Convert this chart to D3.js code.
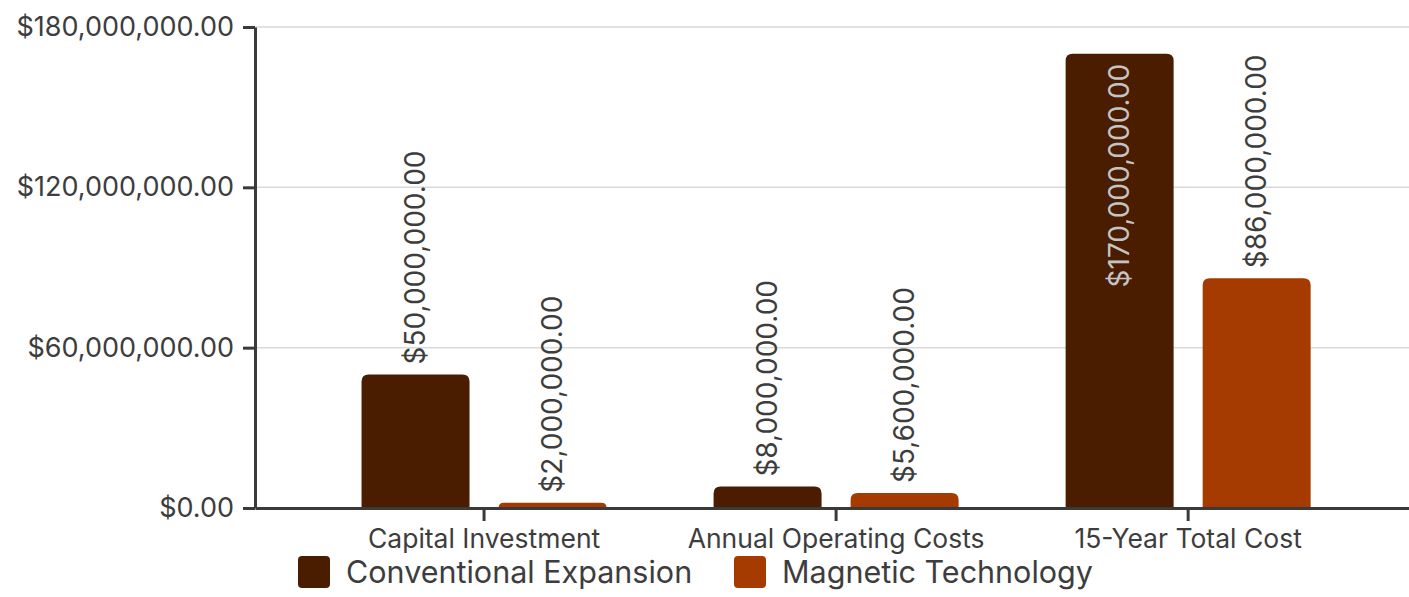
<!DOCTYPE html>
<html>
<head>
<meta charset="utf-8">
<script src="https://cdn.jsdelivr.net/npm/d3@7"></script>
<style>
  html, body { margin: 0; padding: 0; background: #fff; }
  svg { display: block; font-family: Inter, "Open Sans", sans-serif; }
</style>
</head>
<body>
<svg id="chart" width="1409" height="597"></svg>
<script>
// Cost comparison data
const categories = ["Capital Investment", "Annual Operating Costs", "15-Year Total Cost"];
const seriesNames = ["Conventional Expansion", "Magnetic Technology"];
const conventional = [50000000, 8000000, 170000000];
const magnetic = [2000000, 5600000, 86000000];
const yTicks = [0, 60000000, 120000000, 180000000];
const colors = ["#4a1c00", "#a53b00"];

const series = [conventional, magnetic];
const rows = categories.map((c, i) => ({
  category: c,
  values: seriesNames.map((s, k) => ({ key: s, k, value: series[k][i] }))
}));

const svg = d3.select("#chart");
const margin = { left: 255, right: 0, top: 27, bottom: 89 };
const W = 1409, H = 597;
const innerW = W - margin.left - margin.right;
const innerH = H - margin.top - margin.bottom;

const fmt = d => "$" + d3.format(",.2f")(d);

const x0 = d3.scaleBand().domain(categories).range([0, innerW])
  .paddingInner(0.304).paddingOuter(0.291).align(0.52);
const x1 = d3.scaleBand().domain(seriesNames).range([0, x0.bandwidth()]).paddingInner(0.212);
const y = d3.scaleLinear().domain([0, 180000000]).range([innerH, 0]);

const g = svg.append("g").attr("transform", `translate(${margin.left},${margin.top})`);

// horizontal gridlines
g.append("g").selectAll("line").data(yTicks.filter(t => t > 0)).join("line")
  .attr("x1", 0).attr("x2", innerW)
  .attr("y1", d => y(d)).attr("y2", d => y(d))
  .attr("stroke", "#d9d9d9").attr("stroke-width", 1.5);

// bars with rounded top corners
function barPath(x, yTop, w, h, r) {
  r = Math.min(r, h, w / 2);
  return `M${x},${yTop + h}V${yTop + r}Q${x},${yTop} ${x + r},${yTop}H${x + w - r}Q${x + w},${yTop} ${x + w},${yTop + r}V${yTop + h}Z`;
}

const groups = g.append("g").selectAll("g").data(rows).join("g")
  .attr("transform", d => `translate(${x0(d.category)},0)`);

groups.selectAll("path").data(d => d.values).join("path")
  .attr("d", d => barPath(x1(d.key), y(d.value), x1.bandwidth(), innerH - y(d.value), 7))
  .attr("fill", d => colors[d.k]);

// value labels, rotated; placed inside tall bars
groups.selectAll("text").data(d => d.values).join("text")
  .each(function (d) {
    const cx = x1(d.key) + x1.bandwidth() / 2;
    const top = y(d.value);
    const inside = innerH - top > 300;
    const yy = inside ? top + 10 : top - 10;
    d3.select(this)
      .attr("transform", `translate(${cx},${yy}) rotate(-90)`)
      .attr("text-anchor", inside ? "end" : "start")
      .attr("dy", "0.35em")
      .attr("fill", inside ? "#c4c4c4" : "#3d3d3d")
      .attr("font-size", 28)
      .text(fmt(d.value));
  });

// axes
const yAxis = g.append("g")
  .call(d3.axisLeft(y).tickValues(yTicks).tickFormat(fmt).tickSize(12).tickPadding(9).tickSizeOuter(0));
const xAxis = g.append("g").attr("transform", `translate(0,${innerH})`)
  .call(d3.axisBottom(x0).tickSize(13).tickPadding(8).tickSizeOuter(0));

[yAxis, xAxis].forEach(a => {
  a.select(".domain").attr("stroke", "#3a3a3a").attr("stroke-width", 3);
  a.selectAll(".tick line").attr("stroke", "#3a3a3a").attr("stroke-width", 3);
  a.selectAll("text").attr("fill", "#3d3d3d").attr("font-family", "Inter, sans-serif");
});
yAxis.selectAll("text").attr("font-size", 27);
xAxis.selectAll("text").attr("font-size", 26.5);

// legend
const legend = svg.append("g").attr("transform", "translate(298,556)");
const items = [{ name: seriesNames[0], x: 0 }, { name: seriesNames[1], x: 436 }];
items.forEach((it, i) => {
  const li = legend.append("g").attr("transform", `translate(${it.x},0)`);
  li.append("rect").attr("width", 32).attr("height", 32).attr("rx", 4).attr("fill", colors[i]);
  li.append("text").attr("x", 48).attr("y", 16).attr("dy", "0.35em")
    .attr("fill", "#3d3d3d").attr("font-size", 30.5).text(it.name);
});
</script>
</body>
</html>
